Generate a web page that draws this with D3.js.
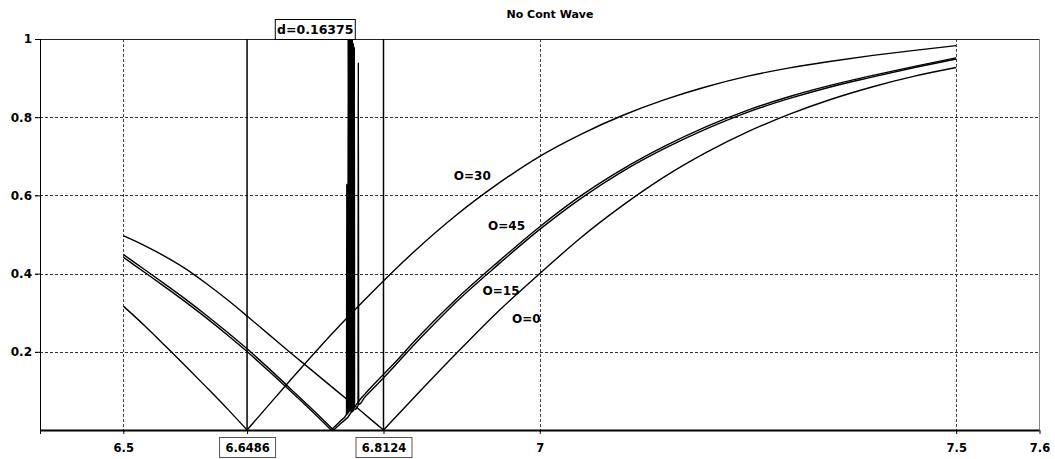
<!DOCTYPE html>
<html><head><meta charset="utf-8">
<script src="https://cdn.jsdelivr.net/npm/d3@7"></script>
<style>
body{margin:0;background:#fff;}
svg{display:block;}
text{font-family:"DejaVu Sans",Verdana,sans-serif;font-weight:bold;fill:#000;}
</style></head>
<body><svg id="c" width="1055" height="459"></svg>
<script>
// ---- data ----
const title = "No Cont Wave";
const xTicks = [6.5, 6.6486, 6.8124, 7, 7.5, 7.6];
const xGrid = [6.5, 7, 7.5];
const markers = [6.6486, 6.8124];
const dLabel = "d=0.16375";
const yTicks = [0.2, 0.4, 0.6, 0.8, 1];
const yGrid = [0.2, 0.4, 0.6, 0.8];
const seriesNames = ["O=0", "O=15", "O=30", "O=45"];

const o0 = [[6.5,.497],[6.525,.472],[6.55,.444],[6.575,.412],[6.6,.374],[6.625,.333],[6.65,.289],[6.675,.244],[6.7,.199],[6.725,.155],[6.75,.111],[6.775,.067],[6.8,.022],[6.8124,0],
  [6.85,.085],[6.9,.196],[6.95,.303],[7.0,.40],[7.05,.493],[7.1,.575],[7.15,.648],[7.2,.71],[7.25,.763],[7.3,.808],[7.35,.846],[7.4,.878],[7.45,.905],[7.5,.927]];
const o15 = [[6.5,.449],[6.525,.411],[6.55,.373],[6.575,.334],[6.6,.293],[6.625,.25],[6.65,.205],[6.675,.157],[6.7,.107],[6.725,.057],[6.7525,0],
  [6.76,.015],[6.7735,.045],[6.7738,1.0],[6.7741,.046],[6.7747,.047],[6.775,1.0],[6.7753,.048],[6.7759,.05],[6.7762,.99],[6.7765,.05],[6.7771,.05],[6.7774,.98],[6.7777,.052],[6.7818,.062],[6.7822,.94],[6.7826,.065],
  [6.79,.084],[6.8,.106],[6.825,.162],[6.85,.22],[6.875,.275],[6.9,.328],[6.95,.423],[7.0,.513],[7.05,.593],[7.1,.662],[7.15,.72],[7.2,.77],[7.25,.813],[7.3,.848],[7.35,.878],[7.4,.903],[7.45,.927],[7.5,.949]];
const o30 = [[6.5,.317],[6.525,.268],[6.55,.216],[6.575,.163],[6.6,.109],[6.625,.054],[6.6486,0],
  [6.675,.065],[6.7,.126],[6.75,.245],[6.8,.355],[6.85,.458],[6.9,.55],[6.95,.63],[7.0,.70],[7.05,.757],[7.1,.805],[7.15,.845],[7.2,.878],[7.25,.905],[7.3,.926],[7.35,.943],[7.4,.958],[7.45,.971],[7.5,.983]];
const o45 = [[6.5,.442],[6.525,.404],[6.55,.366],[6.575,.327],[6.6,.286],[6.625,.243],[6.65,.198],[6.675,.15],[6.7,.101],[6.725,.051],[6.7495,0],
  [6.76,.022],[6.768,.04],[6.7683,.63],[6.7686,.04],[6.7697,.044],[6.77,1.0],[6.7703,.045],[6.7709,.047],[6.7712,1.0],[6.7715,.048],[6.7721,.05],[6.7724,1.0],[6.7727,.05],[6.7729,.05],[6.7732,1.0],[6.7735,.052],
  [6.785,.08],[6.8,.115],[6.825,.17],[6.85,.228],[6.875,.283],[6.9,.335],[6.95,.43],[7.0,.52],[7.05,.6],[7.1,.668],[7.15,.726],[7.2,.776],[7.25,.818],[7.3,.853],[7.35,.882],[7.4,.907],[7.45,.93],[7.5,.952]];
const seriesData = [o0, o15, o30, o45];

// ---- layout ----
const svg = d3.select("#c");
const L = 40, R = 1039.5, T = 39, B = 430;
const x = d3.scaleLinear().domain([6.4, 7.6]).range([L, R]);
const y = d3.scaleLinear().domain([0, 1]).range([B, T]);

// grid
svg.append("g").selectAll("line").data(yGrid).join("line")
  .attr("x1", L - 5).attr("x2", R).attr("y1", d => Math.round(y(d)) + .5).attr("y2", d => Math.round(y(d)) + .5)
  .attr("stroke", "#333").attr("stroke-dasharray", "3,2");
svg.append("g").selectAll("line").data(xGrid).join("line")
  .attr("x1", d => Math.round(x(d)) + .5).attr("x2", d => Math.round(x(d)) + .5).attr("y1", T).attr("y2", B + 4)
  .attr("stroke", "#444").attr("stroke-dasharray", "3,2");

// frame
svg.append("line").attr("x1", L).attr("x2", R).attr("y1", T + .5).attr("y2", T + .5).attr("stroke", "#222");
svg.append("line").attr("x1", R).attr("x2", R).attr("y1", T).attr("y2", B).attr("stroke", "#888");
svg.append("line").attr("x1", L + .5).attr("x2", L + .5).attr("y1", T).attr("y2", B).attr("stroke", "#000");

// marker lines
svg.append("g").selectAll("line").data(markers).join("line")
  .attr("x1", d => x(d)).attr("x2", d => x(d)).attr("y1", T).attr("y2", B)
  .attr("stroke", "#000").attr("stroke-width", 1.5);

// series: split each at its zero (sharp V), smooth each branch
const pieces = [];
seriesData.forEach(s => {
  const i = s.findIndex(p => p[1] === 0);
  pieces.push(s.slice(0, i + 1), s.slice(i));
});
const line = d3.line().x(d => x(d[0])).y(d => y(d[1])).curve(d3.curveMonotoneX);
svg.append("g").selectAll("path").data(pieces).join("path")
  .attr("d", line).attr("fill", "none").attr("stroke", "#000").attr("stroke-width", 1.4)
  .attr("stroke-linejoin", "miter").attr("stroke-miterlimit", 2);

// axes
const xAxis = d3.axisBottom(x).tickValues([6.4].concat(xTicks)).tickSize(4).tickFormat(d => d === 6.4 ? "" : String(d));
const gx = svg.append("g").attr("transform", `translate(0,${B})`).call(xAxis);
gx.select(".domain").attr("stroke", "#000").attr("stroke-width", 2).attr("d", `M${L},0.5H${R}`);
gx.selectAll(".tick line").attr("stroke", "#000");
gx.selectAll(".tick text").attr("font-size", 11.5).attr("font-family", "DejaVu Sans").attr("font-weight", "bold").attr("dy", 0).attr("y", 22);

// boxes around marker tick labels
gx.selectAll(".tick").filter(d => markers.includes(d)).each(function(){
  d3.select(this).insert("rect", "text").attr("x", -28).attr("y", 7.5).attr("width", 56).attr("height", 20)
    .attr("fill", "#fff").attr("stroke", "#555");
});

const yAxis = d3.axisLeft(y).tickValues(yTicks).tickSize(5).tickFormat(d => String(d));
const gy = svg.append("g").attr("transform", `translate(${L},0)`).call(yAxis);
gy.select(".domain").remove();
gy.selectAll(".tick line").attr("stroke", "#000");
gy.selectAll(".tick text").attr("font-size", 12).attr("font-family", "DejaVu Sans").attr("font-weight", "bold").attr("x", -8);

// title
svg.append("text").attr("x", 550).attr("y", 18).attr("text-anchor", "middle").attr("font-size", 11).text(title);

// d label
const mid = (x(markers[0]) + x(markers[1])) / 2;
svg.append("rect").attr("x", mid - 40).attr("y", 19.5).attr("width", 80).attr("height", 20).attr("fill", "#fff").attr("stroke", "#000");
svg.append("text").attr("x", mid).attr("y", 34).attr("text-anchor", "middle").attr("font-size", 12.5).text(dLabel);

// series labels
const labelPos = [[6.984, 0.286], [6.9536, 0.358], [6.919, 0.652], [6.9602, 0.524]];
svg.append("g").selectAll("text").data(seriesNames).join("text")
  .attr("x", (d, i) => x(labelPos[i][0])).attr("y", (d, i) => y(labelPos[i][1]) + 4.5)
  .attr("text-anchor", "middle").attr("font-size", 12).text(d => d);
</script></body></html>
